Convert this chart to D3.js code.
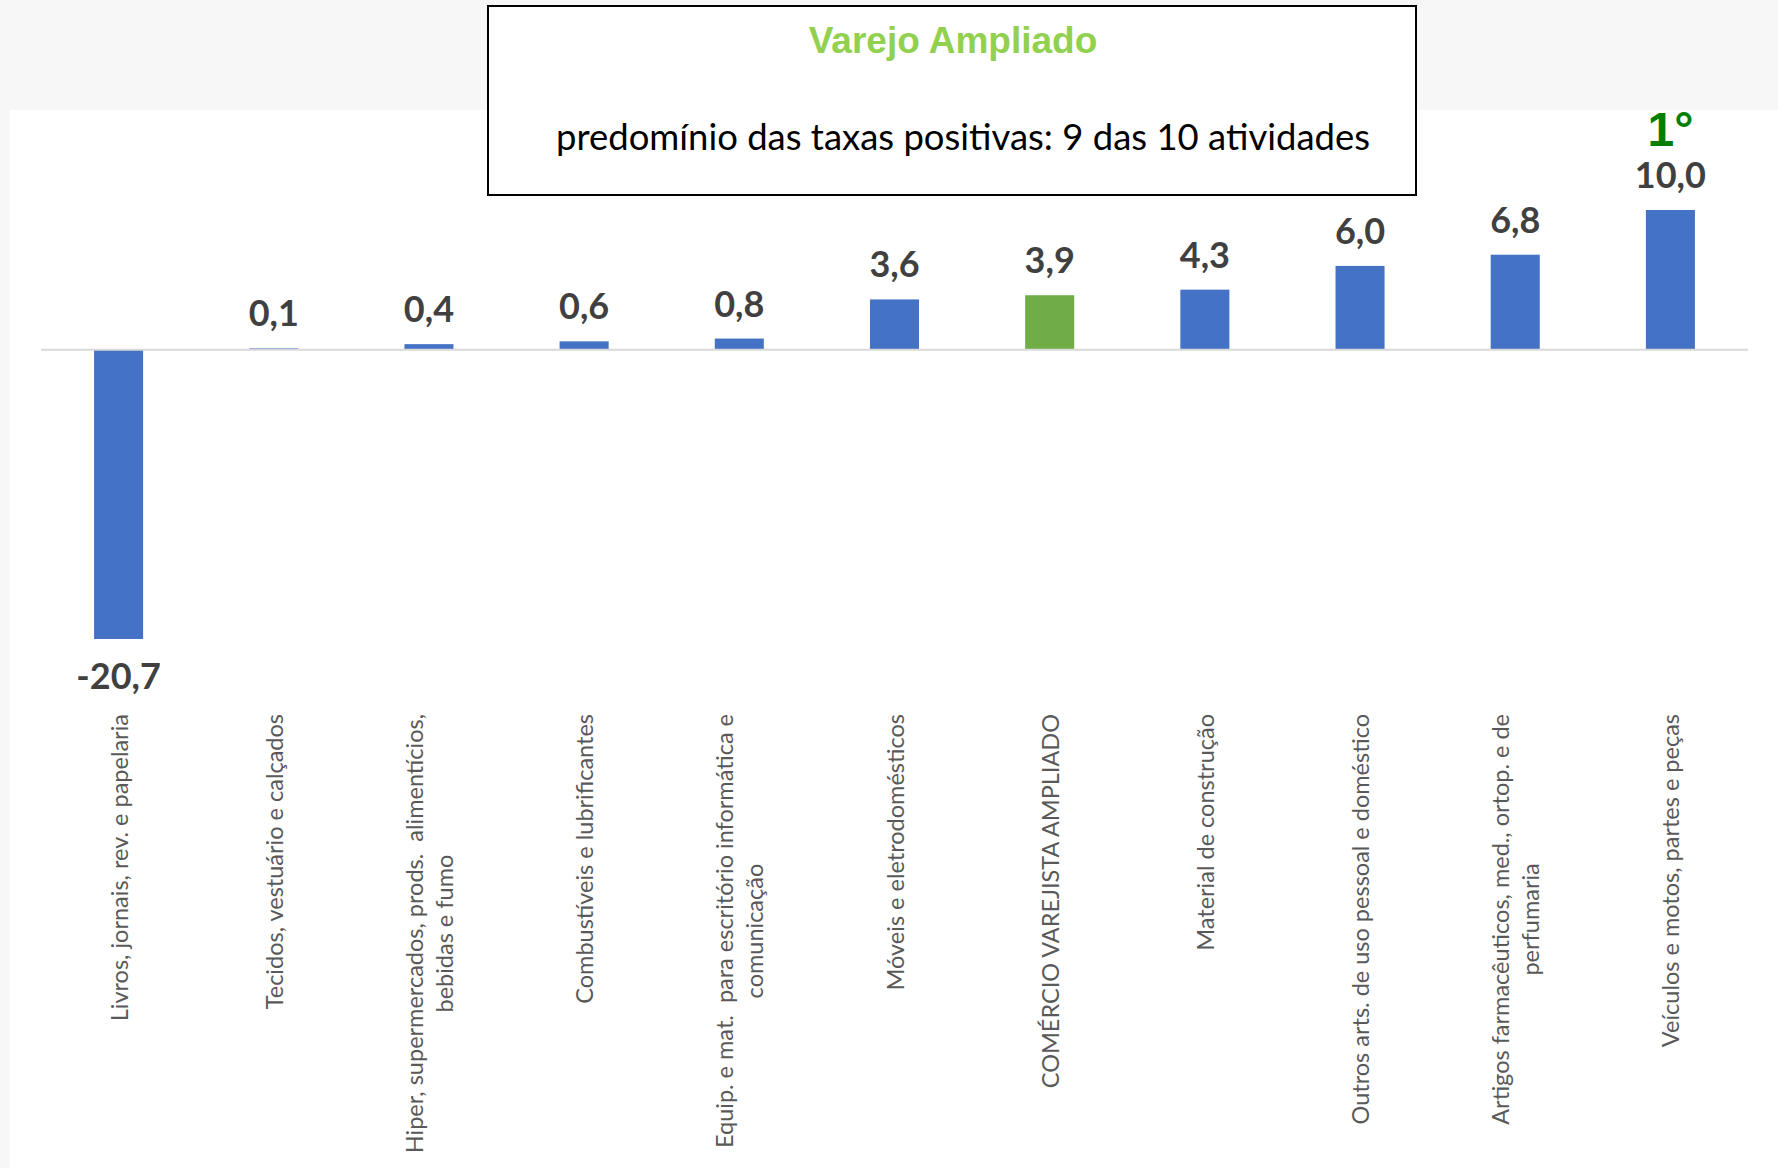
<!DOCTYPE html>
<html lang="pt">
<head>
<meta charset="UTF-8">
<title>Varejo Ampliado</title>
<script src="https://d3js.org/d3.v7.min.js"></script>
<style>
    body { margin: 0; background: #f7f7f7; }
    svg { display: block; }
</style>
</head>
<body>
<div id="chart"></div>
<script>
    // data
    const categories = [
        "Livros, jornais, rev. e papelaria",
        "Tecidos, vestuário e calçados",
        "Hiper, supermercados, prods.  alimentícios,\nbebidas e fumo",
        "Combustíveis e lubrificantes",
        "Equip. e mat.  para escritório informática e\ncomunicação",
        "Móveis e eletrodomésticos",
        "COMÉRCIO VAREJISTA AMPLIADO",
        "Material de construção",
        "Outros arts. de uso pessoal e doméstico",
        "Artigos farmacêuticos, med., ortop. e de\nperfumaria",
        "Veículos e motos, partes e peças"
    ];
    const values = [-20.7, 0.1, 0.4, 0.6, 0.8, 3.6, 3.9, 4.3, 6.0, 6.8, 10.0];
    const highlight = "COMÉRCIO VAREJISTA AMPLIADO";
    const titleText = "Varejo Ampliado";
    const subtitleText = "predomínio das taxas positivas: 9 das 10 atividades";
    const rankText = "1°";

    const W = 1778, H = 1168;
    const fmt = v => d3.format(".1f")(v).replace(".", ",").replace("\u2212", "-");

    const svg = d3.select("#chart").append("svg")
        .attr("width", W)
        .attr("height", H);

    // background: grey band on top, white plot panel
    svg.append("rect").attr("width", W).attr("height", H).attr("fill", "#f7f7f7");
    svg.append("rect").attr("x", 10).attr("y", 110).attr("width", W - 10).attr("height", H - 110).attr("fill", "#fff");

    const x = d3.scaleBand()
        .domain(categories)
        .range([41, 1748])
        .paddingInner(0.684)
        .paddingOuter(0.342);

    const y = d3.scaleLinear()
        .domain([d3.min(values), d3.max(values)])
        .range([639, 210]);

    const data = categories.map((c, i) => ({ cat: c, value: values[i] }));

    // bars
    svg.append("g").selectAll("rect")
        .data(data)
        .join("rect")
        .attr("x", d => x(d.cat))
        .attr("width", x.bandwidth())
        .attr("y", d => y(Math.max(0, d.value)))
        .attr("height", d => Math.abs(y(d.value) - y(0)))
        .attr("fill", d => d.cat === highlight ? "#70ad47" : "#4472c4");

    // zero line
    svg.append("line")
        .attr("x1", x.range()[0]).attr("x2", x.range()[1])
        .attr("y1", y(0)).attr("y2", y(0))
        .attr("stroke", "#d9d9d9")
        .attr("stroke-width", 2);

    // value labels
    svg.append("g").selectAll("text")
        .data(data)
        .join("text")
        .attr("x", d => x(d.cat) + x.bandwidth() / 2)
        .attr("y", d => d.value >= 0 ? y(d.value) - 22 : y(d.value) + 50)
        .attr("text-anchor", "middle")
        .attr("font-family", "Lato, sans-serif")
        .attr("font-weight", "bold")
        .attr("font-size", 36)
        .attr("fill", "#404040")
        .text(d => fmt(d.value));

    // rank marker above the top bar
    const best = data[d3.maxIndex(data, d => d.value)];
    svg.append("text")
        .attr("x", x(best.cat) + x.bandwidth() / 2)
        .attr("y", y(best.value) - 64)
        .attr("text-anchor", "middle")
        .attr("font-family", "Liberation Sans, Arial, sans-serif")
        .attr("font-weight", "bold")
        .attr("font-size", 48)
        .attr("fill", "#008000")
        .text(rankText);

    // category labels, rotated, lines centred, block ending at labelTop
    const labelTop = 714;
    const lineGap = 30;
    const labels = svg.append("g").selectAll("g")
        .data(data)
        .join("g");

    labels.each(function (d) {
        const g = d3.select(this);
        const lines = d.cat.split("\n");
        const cx = x(d.cat) + x.bandwidth() / 2;
        const texts = lines.map(ln => g.append("text")
            .attr("font-family", "Lato, sans-serif")
            .attr("font-size", 23.5)
            .attr("fill", "#595959")
            .attr("text-anchor", "middle")
            .attr("dominant-baseline", "central")
            .style("white-space", "pre")
            .text(ln));
        const maxLen = d3.max(texts, t => t.node().getComputedTextLength());
        const cy = labelTop + maxLen / 2;
        texts.forEach((t, i) => {
            const lx = cx + (i - (lines.length - 1) / 2) * lineGap;
            t.attr("transform", `translate(${lx},${cy}) rotate(-90)`);
        });
    });

    // title box
    svg.append("rect")
        .attr("x", 488).attr("y", 6)
        .attr("width", 928).attr("height", 189)
        .attr("fill", "#fff")
        .attr("stroke", "#000")
        .attr("stroke-width", 2);

    svg.append("text")
        .attr("x", 953).attr("y", 53)
        .attr("text-anchor", "middle")
        .attr("font-family", "Liberation Sans, Arial, sans-serif")
        .attr("font-weight", "bold")
        .attr("font-size", 37)
        .attr("fill", "#92d050")
        .text(titleText);

    svg.append("text")
        .attr("x", 963).attr("y", 150)
        .attr("text-anchor", "middle")
        .attr("font-family", "Lato, sans-serif")
        .attr("font-size", 37)
        .attr("fill", "#000")
        .attr("textLength", 814)
        .attr("lengthAdjust", "spacingAndGlyphs")
        .text(subtitleText);
</script>
</body>
</html>
